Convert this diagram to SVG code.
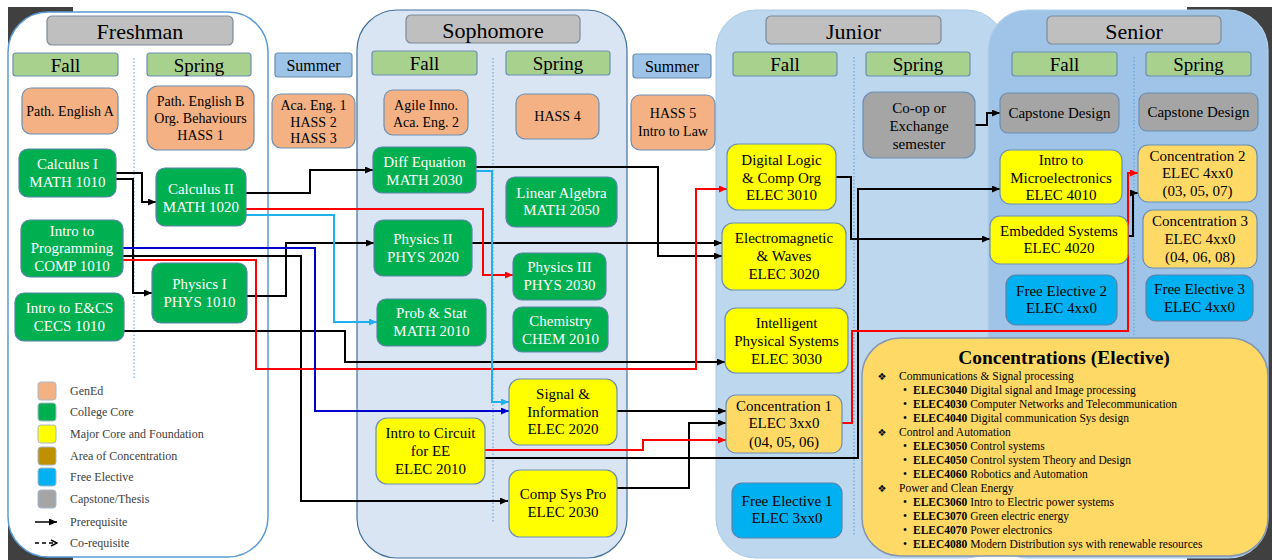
<svg xmlns="http://www.w3.org/2000/svg" width="1272" height="560" viewBox="0 0 1272 560">
<style>
text{font-family:"Liberation Serif","Times New Roman",serif;fill:#000;text-anchor:middle}
.hd{font-size:22px}
.sem{font-size:19px}
.sum{font-size:16px}
.n{font-size:15px}
.o{font-size:14px}
.w{fill:#fff}
.hbox{fill:#bfbfbf;stroke:#7f8a99;stroke-width:1.2}
.gbox{fill:#a9d18e;stroke:#6a8fb5;stroke-width:1.2}
.sbox{fill:#9dc3e6;stroke:#6a8fb5;stroke-width:1.2}
.ge{fill:#f4b183;stroke:#6a8fb5;stroke-width:1.2}
.cc{fill:#00b050;stroke:#5a82ac;stroke-width:1.2}
.mj{fill:#ffff00;stroke:#6a8fb5;stroke-width:1.2}
.co{fill:#ffd966;stroke:#6a8fb5;stroke-width:1.2}
.fe{fill:#00b0f0;stroke:#5a82ac;stroke-width:1.2}
.cp{fill:#a5a5a5;stroke:#6a8fb5;stroke-width:1.2}
.div{stroke:#5b9bd5;stroke-width:1;stroke-dasharray:1.5 2;fill:none}
.k{fill:none;stroke:#000;stroke-width:2;marker-end:url(#ak)}
.r{fill:none;stroke:#ff0000;stroke-width:2;marker-end:url(#ar)}
.c{fill:none;stroke:#1fb0f0;stroke-width:2;marker-end:url(#ac)}
.b{fill:none;stroke:#0000cc;stroke-width:2;marker-end:url(#ab)}
.lg{font-size:12px;fill:#404040;text-anchor:start}
.ct{font-size:11.5px;text-anchor:start}
.ctb{font-weight:bold}
.dm{font-family:"DejaVu Sans",sans-serif;font-size:10px;text-anchor:middle}
</style>
<defs>
<marker id="ak" markerUnits="userSpaceOnUse" markerWidth="8" markerHeight="7" refX="8" refY="3.5" orient="auto"><path d="M0,0 L8,3.5 L0,7 z" fill="#000"/></marker>
<marker id="ar" markerUnits="userSpaceOnUse" markerWidth="8" markerHeight="7" refX="8" refY="3.5" orient="auto"><path d="M0,0 L8,3.5 L0,7 z" fill="#ff0000"/></marker>
<marker id="ac" markerUnits="userSpaceOnUse" markerWidth="8" markerHeight="7" refX="8" refY="3.5" orient="auto"><path d="M0,0 L8,3.5 L0,7 z" fill="#1fb0f0"/></marker>
<marker id="ab" markerUnits="userSpaceOnUse" markerWidth="8" markerHeight="7" refX="8" refY="3.5" orient="auto"><path d="M0,0 L8,3.5 L0,7 z" fill="#0000cc"/></marker>
<marker id="ao" markerUnits="userSpaceOnUse" markerWidth="8" markerHeight="8" refX="7" refY="4" orient="auto"><path d="M1,1 L7,4 L1,7" fill="none" stroke="#000" stroke-width="1.5"/></marker>
</defs>

<g id="background">
<rect x="0" y="0" width="1272" height="560" fill="#fff"/>
<rect x="8" y="7" width="65" height="553" fill="#404040"/>
<rect x="1187" y="7" width="85" height="553" fill="#404040"/>
</g>

<g id="panels">
<rect id="panel-freshman" x="8" y="12" width="260" height="545" rx="40" fill="#fff" stroke="#5b9bd5" stroke-width="1.5"/>
<rect id="panel-sophomore" x="357" y="10" width="270" height="548" rx="40" fill="#dae5f3" stroke="#41719c" stroke-width="1.2"/>
<rect id="panel-junior" x="716" y="10" width="290" height="548" rx="40" fill="#bdd7ee" stroke="#a9c9e8" stroke-width="1"/>
<rect id="panel-senior" x="988" y="10" width="280" height="548" rx="40" fill="#9fc4e7" stroke="#b4d0ec" stroke-width="1.2"/>
<path class="div" d="M134,58 V380"/>
<path class="div" d="M493,58 V523"/>
<path class="div" d="M854,57 V535"/>
<path class="div" d="M1134,57 V338"/>
</g>

<g id="headers">
<rect class="hbox" x="47" y="16" width="186" height="29" rx="5"/><text class="hd" x="140" y="39">Freshman</text>
<rect class="hbox" x="406" y="15" width="174" height="28" rx="5"/><text class="hd" x="493" y="38">Sophomore</text>
<rect class="hbox" x="766" y="16" width="175" height="28" rx="5"/><text class="hd" x="853.5" y="39">Junior</text>
<rect class="hbox" x="1047" y="16" width="174" height="28" rx="5"/><text class="hd" x="1134" y="39">Senior</text>
<rect class="gbox" x="13" y="53" width="105" height="23" rx="3"/><text class="sem" x="65.5" y="71.5">Fall</text>
<rect class="gbox" x="147" y="53" width="104" height="23" rx="3"/><text class="sem" x="199" y="71.5">Spring</text>
<rect class="sbox" x="275" y="53" width="77" height="24" rx="3"/><text class="sum" x="313.5" y="71">Summer</text>
<rect class="gbox" x="372" y="51" width="105" height="24" rx="3"/><text class="sem" x="424.5" y="70">Fall</text>
<rect class="gbox" x="506" y="51" width="104" height="24" rx="3"/><text class="sem" x="558" y="70">Spring</text>
<rect class="sbox" x="633" y="54" width="78" height="24" rx="3"/><text class="sum" x="672" y="72">Summer</text>
<rect class="gbox" x="733" y="52" width="104" height="24" rx="3"/><text class="sem" x="785" y="71">Fall</text>
<rect class="gbox" x="866" y="52" width="104" height="24" rx="3"/><text class="sem" x="918" y="71">Spring</text>
<rect class="gbox" x="1012" y="52" width="105" height="24" rx="3"/><text class="sem" x="1064.5" y="71">Fall</text>
<rect class="gbox" x="1146" y="52" width="105" height="24" rx="3"/><text class="sem" x="1198.5" y="71">Spring</text>
</g>

<g id="connectors">
<path class="k" d="M116,173 H142 V202 H156"/>
<path class="k" d="M116,179 H133 V293 H152"/>
<path class="k" d="M246,193 H310 V170 H373"/>
<path class="k" d="M247,296 H286 V243 H374"/>
<path class="k" d="M123,256 H301 V501 H508"/>
<path class="k" d="M124,331 H345 V362 H725"/>
<path class="k" d="M476,167 H658 V256 H722"/>
<path class="k" d="M472,243 H722"/>
<path class="k" d="M617,411 H726"/>
<path class="k" d="M485,458 H858 V189 H1000"/>
<path class="k" d="M617,488 H689 V423 H726"/>
<path class="k" d="M836,177 H851 V239 H990"/>
<path class="k" d="M975,125 H987 V113 H1000"/>
<path class="k" d="M1128,236 H1133 V193 H1138"/>
<path class="r" d="M246,209 H483 V275 H513"/>
<path class="r" d="M123,260 H256 V369 H696 V189 H727"/>
<path class="r" d="M485,450 H643 V440 H726"/>
<path class="r" d="M842,423 H852 V331 H1128 V173 H1138"/>
<path class="c" d="M246,215 H334 V322 H377"/>
<path class="c" d="M476,171 H492 V402 H509"/>
<path class="b" d="M123,248 H315 V411 H509"/>
</g>

<g id="n-path-eng-a"><rect class="ge" x="22" y="88" width="96" height="46" rx="9"/><text class="o" x="70" y="116">Path. English A</text></g>
<g id="n-calc1"><rect class="cc" x="19" y="149" width="97" height="48" rx="9"/><text class="n w" x="67.5" y="169">Calculus I</text><text class="n w" x="67.5" y="187">MATH 1010</text></g>
<g id="n-prog"><rect class="cc" x="21" y="220" width="102" height="57" rx="9"/><text class="n w" x="72" y="236">Intro to</text><text class="n w" x="72" y="253">Programming</text><text class="n w" x="72" y="271">COMP 1010</text></g>
<g id="n-ecs"><rect class="cc" x="15" y="293" width="109" height="48" rx="9"/><text class="n w" x="69.5" y="313">Intro to E&amp;CS</text><text class="n w" x="69.5" y="331">CECS 1010</text></g>
<g id="n-path-eng-b"><rect class="ge" x="147" y="86" width="107" height="64" rx="11"/><text class="o" x="200.5" y="106">Path. English B</text><text class="o" x="200.5" y="123">Org. Behaviours</text><text class="o" x="200.5" y="140">HASS 1</text></g>
<g id="n-calc2"><rect class="cc" x="156" y="168" width="90" height="58" rx="9"/><text class="n w" x="201" y="194">Calculus II</text><text class="n w" x="201" y="212">MATH 1020</text></g>
<g id="n-phys1"><rect class="cc" x="152" y="263" width="95" height="60" rx="9"/><text class="n w" x="199.5" y="289">Physics I</text><text class="n w" x="199.5" y="307">PHYS 1010</text></g>
<g id="n-summer1"><rect class="ge" x="272" y="94" width="83" height="54" rx="9"/><text class="o" x="313.5" y="110">Aca. Eng. 1</text><text class="o" x="313.5" y="127">HASS 2</text><text class="o" x="313.5" y="143">HASS 3</text></g>

<g id="n-agile"><rect class="ge" x="384" y="90" width="84" height="45" rx="9"/><text class="o" x="426" y="110">Agile Inno.</text><text class="o" x="426" y="127">Aca. Eng. 2</text></g>
<g id="n-diffeq"><rect class="cc" x="373" y="147" width="103" height="46" rx="9"/><text class="n w" x="424.5" y="167">Diff Equation</text><text class="n w" x="424.5" y="185">MATH 2030</text></g>
<g id="n-phys2"><rect class="cc" x="374" y="220" width="98" height="56" rx="9"/><text class="n w" x="423" y="244">Physics II</text><text class="n w" x="423" y="262">PHYS 2020</text></g>
<g id="n-probstat"><rect class="cc" x="377" y="299" width="109" height="47" rx="9"/><text class="n w" x="431.5" y="318">Prob &amp; Stat</text><text class="n w" x="431.5" y="336">MATH 2010</text></g>
<g id="n-circuit"><rect class="mj" x="376" y="418" width="109" height="66" rx="11"/><text class="n" x="430.5" y="438">Intro to Circuit</text><text class="n" x="430.5" y="456">for EE</text><text class="n" x="430.5" y="474">ELEC 2010</text></g>
<g id="n-hass4"><rect class="ge" x="516" y="94" width="83" height="45" rx="9"/><text class="o" x="557.5" y="121">HASS 4</text></g>
<g id="n-linalg"><rect class="cc" x="506" y="177" width="111" height="50" rx="9"/><text class="n w" x="561.5" y="198">Linear Algebra</text><text class="n w" x="561.5" y="215">MATH 2050</text></g>
<g id="n-phys3"><rect class="cc" x="513" y="253" width="93" height="47" rx="9"/><text class="n w" x="559.5" y="272">Physics III</text><text class="n w" x="559.5" y="290">PHYS 2030</text></g>
<g id="n-chem"><rect class="cc" x="513" y="307" width="95" height="45" rx="9"/><text class="n w" x="560.5" y="326">Chemistry</text><text class="n w" x="560.5" y="344">CHEM 2010</text></g>
<g id="n-signal"><rect class="mj" x="509" y="379" width="108" height="66" rx="11"/><text class="n" x="563" y="399">Signal &amp;</text><text class="n" x="563" y="417">Information</text><text class="n" x="563" y="434">ELEC 2020</text></g>
<g id="n-compsys"><rect class="mj" x="509" y="470" width="108" height="67" rx="11"/><text class="n" x="563" y="499">Comp Sys Pro</text><text class="n" x="563" y="517">ELEC 2030</text></g>
<g id="n-hass5"><rect class="ge" x="631" y="95" width="84" height="55" rx="9"/><text class="o" x="673" y="118">HASS 5</text><text class="o" x="673" y="136">Intro to Law</text></g>

<g id="n-digital"><rect class="mj" x="727" y="144" width="109" height="66" rx="11"/><text class="n" x="781.5" y="165">Digital Logic</text><text class="n" x="781.5" y="183">&amp; Comp Org</text><text class="n" x="781.5" y="200">ELEC 3010</text></g>
<g id="n-em"><rect class="mj" x="722" y="223" width="124" height="67" rx="11"/><text class="n" x="784" y="243">Electromagnetic</text><text class="n" x="784" y="261">&amp; Waves</text><text class="n" x="784" y="279">ELEC 3020</text></g>
<g id="n-ips"><rect class="mj" x="725" y="308" width="123" height="65" rx="11"/><text class="n" x="786.5" y="328">Intelligent</text><text class="n" x="786.5" y="346">Physical Systems</text><text class="n" x="786.5" y="364">ELEC 3030</text></g>
<g id="n-conc1"><rect class="co" x="726" y="395" width="116" height="58" rx="10"/><text class="n" x="784" y="411">Concentration 1</text><text class="n" x="784" y="428">ELEC 3xx0</text><text class="n" x="784" y="447">(04, 05, 06)</text></g>
<g id="n-fe1"><rect class="fe" x="732" y="483" width="110" height="55" rx="10"/><text class="n" x="787" y="506">Free Elective 1</text><text class="n" x="787" y="523">ELEC 3xx0</text></g>
<g id="n-coop"><rect class="cp" x="863" y="92" width="112" height="66" rx="11"/><text class="n" x="919" y="113">Co-op or</text><text class="n" x="919" y="131">Exchange</text><text class="n" x="919" y="149">semester</text></g>

<g id="n-cap1"><rect class="cp" x="1000" y="93" width="119" height="40" rx="8"/><text class="n" x="1059.5" y="118">Capstone Design</text></g>
<g id="n-micro"><rect class="mj" x="1000" y="150" width="122" height="54" rx="10"/><text class="n" x="1061" y="165">Intro to</text><text class="n" x="1061" y="183">Microelectronics</text><text class="n" x="1061" y="200">ELEC 4010</text></g>
<g id="n-embedded"><rect class="mj" x="990" y="216" width="138" height="48" rx="10"/><text class="n" x="1059" y="236">Embedded Systems</text><text class="n" x="1059" y="253">ELEC 4020</text></g>
<g id="n-fe2"><rect class="fe" x="1006" y="275" width="111" height="50" rx="10"/><text class="n" x="1061.5" y="296">Free Elective 2</text><text class="n" x="1061.5" y="313">ELEC 4xx0</text></g>
<g id="n-cap2"><rect class="cp" x="1139" y="93" width="119" height="38" rx="8"/><text class="n" x="1198.5" y="117">Capstone Design</text></g>
<g id="n-conc2"><rect class="co" x="1138" y="145" width="119" height="57" rx="10"/><text class="n" x="1197.5" y="161">Concentration 2</text><text class="n" x="1197.5" y="178">ELEC 4xx0</text><text class="n" x="1197.5" y="196">(03, 05, 07)</text></g>
<g id="n-conc3"><rect class="co" x="1143" y="210" width="114" height="58" rx="10"/><text class="n" x="1200" y="226">Concentration 3</text><text class="n" x="1200" y="244">ELEC 4xx0</text><text class="n" x="1200" y="262">(04, 06, 08)</text></g>
<g id="n-fe3"><rect class="fe" x="1146" y="275" width="107" height="46" rx="10"/><text class="n" x="1199.5" y="294">Free Elective 3</text><text class="n" x="1199.5" y="312">ELEC 4xx0</text></g>

<g id="n-concentrations">
<rect x="862" y="338" width="406" height="218" rx="38" fill="#ffd966" stroke="#8497b0" stroke-width="1.5"/>
<text x="1064" y="364" style="font-size:19.5px;font-weight:bold">Concentrations (Elective)</text>
<text class="dm" x="882" y="380">❖</text><text class="ct" x="899" y="380">Communications &amp; Signal processing</text>
<text class="ct" x="903" y="394">•</text><text class="ct" x="913" y="394"><tspan class="ctb">ELEC3040</tspan> Digital signal and Image processing</text>
<text class="ct" x="903" y="408">•</text><text class="ct" x="913" y="408"><tspan class="ctb">ELEC4030</tspan> Computer Networks and Telecommunication</text>
<text class="ct" x="903" y="422">•</text><text class="ct" x="913" y="422"><tspan class="ctb">ELEC4040</tspan> Digital communication Sys design</text>
<text class="dm" x="882" y="436">❖</text><text class="ct" x="899" y="436">Control and Automation</text>
<text class="ct" x="903" y="450">•</text><text class="ct" x="913" y="450"><tspan class="ctb">ELEC3050</tspan> Control systems</text>
<text class="ct" x="903" y="464">•</text><text class="ct" x="913" y="464"><tspan class="ctb">ELEC4050</tspan> Control system Theory and Design</text>
<text class="ct" x="903" y="478">•</text><text class="ct" x="913" y="478"><tspan class="ctb">ELEC4060</tspan> Robotics and Automation</text>
<text class="dm" x="882" y="492">❖</text><text class="ct" x="899" y="492">Power and Clean Energy</text>
<text class="ct" x="903" y="506">•</text><text class="ct" x="913" y="506"><tspan class="ctb">ELEC3060</tspan> Intro to Electric power systems</text>
<text class="ct" x="903" y="520">•</text><text class="ct" x="913" y="520"><tspan class="ctb">ELEC3070</tspan> Green electric energy</text>
<text class="ct" x="903" y="534">•</text><text class="ct" x="913" y="534"><tspan class="ctb">ELEC4070</tspan> Power electronics</text>
<text class="ct" x="903" y="548">•</text><text class="ct" x="913" y="548"><tspan class="ctb">ELEC4080</tspan> Modern Distribution sys with renewable resources</text>
</g>

<g id="legend">
<rect x="38" y="382" width="18" height="18" rx="3" fill="#f4b183" stroke="#a6b8cc"/><text class="lg" x="70" y="395">GenEd</text>
<rect x="38" y="403" width="18" height="18" rx="3" fill="#00b050" stroke="#a6b8cc"/><text class="lg" x="70" y="416">College Core</text>
<rect x="38" y="425" width="18" height="18" rx="3" fill="#ffff00" stroke="#a6b8cc"/><text class="lg" x="70" y="438">Major Core and Foundation</text>
<rect x="38" y="447" width="18" height="18" rx="3" fill="#bf9000" stroke="#a6b8cc"/><text class="lg" x="70" y="460">Area of Concentration</text>
<rect x="38" y="468" width="18" height="18" rx="3" fill="#00b0f0" stroke="#a6b8cc"/><text class="lg" x="70" y="481">Free Elective</text>
<rect x="38" y="490" width="18" height="18" rx="3" fill="#a5a5a5" stroke="#a6b8cc"/><text class="lg" x="70" y="503">Capstone/Thesis</text>
<path d="M35,522 H57" stroke="#000" stroke-width="1.5" fill="none" marker-end="url(#ak)"/><text class="lg" x="70" y="526">Prerequisite</text>
<path d="M35,543 H57" stroke="#000" stroke-width="1.5" stroke-dasharray="4 3" fill="none" marker-end="url(#ao)"/><text class="lg" x="70" y="547">Co-requisite</text>
</g>
</svg>
